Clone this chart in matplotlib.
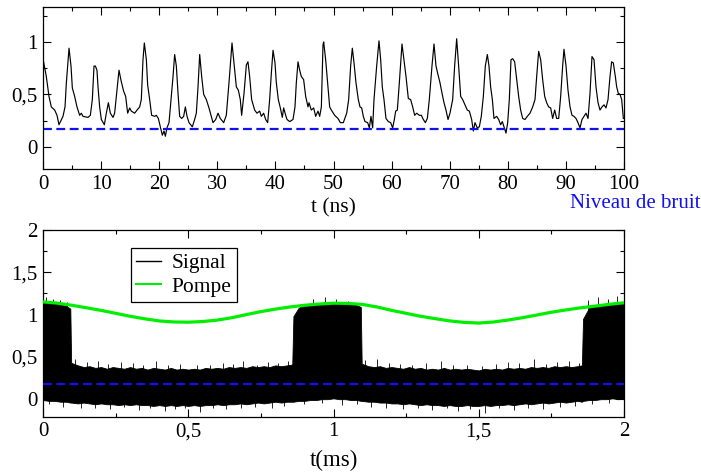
import matplotlib
matplotlib.use("Agg")
import matplotlib.pyplot as plt
from matplotlib.ticker import MultipleLocator
from matplotlib.lines import Line2D

plt.rcParams['font.family'] = ['Liberation Serif', 'DejaVu Serif']

# ---------------- data: top panel (signal vs time in ns) ----------------
top_t = [0.0, 0.57, 1.03, 1.43, 2.01, 2.41, 2.75, 3.44, 3.79, 4.02,
         4.48, 4.82, 5.05, 5.45, 5.85, 6.31, 6.60, 6.88, 7.75, 8.15,
         8.49, 8.78, 9.01, 9.29, 9.47, 9.75, 10.04, 10.56, 10.90, 11.25,
         11.59, 12.05, 12.33, 12.74, 13.08, 13.48, 13.88, 14.23, 14.57, 14.92,
         15.20, 15.78, 16.18, 16.64, 16.92, 17.21, 17.44, 17.79, 18.01, 18.36,
         18.70, 19.22, 19.51, 19.85, 20.20, 20.54, 20.83, 21.06, 21.34, 21.69,
         22.03, 22.38, 22.66, 22.95, 23.24, 23.52, 23.87, 24.21, 24.50, 24.79,
         25.13, 25.70, 26.10, 26.39, 26.68, 26.97, 27.31, 27.65, 28.11, 28.57,
         28.92, 29.26, 29.72, 30.12, 30.52, 31.10, 31.55, 32.01, 32.53, 32.87,
         33.28, 33.62, 33.96, 34.19, 34.60, 35.00, 35.28, 35.57, 35.91, 36.43,
         36.83, 37.29, 37.58, 37.98, 38.32, 38.67, 39.01, 39.30, 39.59, 39.93,
         40.16, 40.50, 40.85, 41.19, 41.42, 41.77, 42.00, 42.46, 43.03, 43.37,
         43.60, 43.89, 44.18, 44.46, 44.86, 45.21, 45.61, 45.78, 46.18, 46.59,
         46.93, 47.33, 47.62, 47.91, 48.19, 48.31, 48.65, 49.05, 49.34, 49.63,
         50.20, 50.77, 51.18, 51.69, 52.27, 52.61, 52.95, 53.24, 53.53, 53.87,
         54.27, 54.56, 54.85, 55.13, 55.42, 55.88, 56.17, 56.45, 56.74, 56.97,
         57.43, 57.83, 58.12, 58.40, 58.69, 59.03, 59.44, 59.84, 60.18, 60.47,
         60.70, 60.99, 61.33, 61.79, 62.13, 62.48, 62.88, 63.28, 63.63, 63.97,
         64.32, 64.78, 65.12, 65.46, 65.81, 66.15, 66.49, 66.95, 67.30, 67.64,
         67.93, 68.33, 68.68, 69.02, 69.36, 69.71, 70.05, 70.51, 70.85, 71.20,
         71.54, 71.89, 72.23, 72.63, 73.03, 73.38, 73.78, 74.07, 74.35, 74.75,
         75.10, 75.44, 75.79, 76.13, 76.48, 76.76, 77.05, 77.34, 77.62, 78.08,
         78.43, 78.77, 79.06, 79.40, 79.69, 79.98, 80.26, 80.55, 80.84, 81.18,
         81.53, 81.87, 82.21, 82.56, 82.96, 83.36, 83.82, 84.28, 84.68, 84.97,
         85.31, 85.66, 86.00, 86.35, 86.69, 87.03, 87.38, 87.72, 88.07, 88.41,
         88.76, 89.10, 89.44, 89.67, 90.02, 90.36, 90.71, 91.05, 91.39, 91.74,
         92.08, 92.43, 92.77, 93.12, 93.46, 93.81, 94.15, 94.49, 94.84, 95.18,
         95.53, 95.87, 96.21, 96.56, 96.90, 97.25, 97.59, 97.87, 98.16, 98.51,
         98.74, 99.02, 99.31, 99.60, 99.89]
top_v = [0.84, 0.67, 0.48, 0.38, 0.35, 0.30, 0.21, 0.29, 0.38, 0.61,
         0.94, 0.77, 0.56, 0.48, 0.38, 0.30, 0.32, 0.29, 0.28, 0.30,
         0.45, 0.77, 0.77, 0.73, 0.57, 0.38, 0.26, 0.21, 0.32, 0.42,
         0.32, 0.28, 0.32, 0.54, 0.73, 0.62, 0.53, 0.48, 0.32, 0.37,
         0.34, 0.32, 0.35, 0.38, 0.45, 0.83, 0.99, 0.83, 0.59, 0.45,
         0.30, 0.29, 0.30, 0.27, 0.19, 0.11, 0.15, 0.10, 0.18, 0.23,
         0.45, 0.67, 0.88, 0.77, 0.51, 0.29, 0.27, 0.29, 0.38, 0.29,
         0.23, 0.19, 0.26, 0.32, 0.57, 0.88, 0.67, 0.50, 0.45, 0.37,
         0.30, 0.23, 0.26, 0.32, 0.27, 0.23, 0.30, 0.61, 0.99, 0.80,
         0.57, 0.54, 0.45, 0.30, 0.51, 0.78, 0.81, 0.67, 0.45, 0.35,
         0.32, 0.34, 0.29, 0.32, 0.26, 0.23, 0.45, 0.70, 0.92, 0.80,
         0.61, 0.45, 0.37, 0.28, 0.37, 0.30, 0.26, 0.24, 0.26, 0.38,
         0.61, 0.81, 0.73, 0.67, 0.64, 0.48, 0.38, 0.42, 0.35, 0.37,
         0.29, 0.34, 0.29, 0.38, 0.97, 1.00, 0.83, 0.57, 0.38, 0.35,
         0.30, 0.27, 0.23, 0.23, 0.32, 0.45, 0.77, 0.94, 0.80, 0.61,
         0.45, 0.38, 0.37, 0.29, 0.24, 0.23, 0.18, 0.29, 0.18, 0.45,
         0.77, 1.01, 0.83, 0.57, 0.45, 0.27, 0.24, 0.23, 0.18, 0.26,
         0.34, 0.35, 0.61, 0.98, 0.83, 0.67, 0.46, 0.45, 0.38, 0.30,
         0.32, 0.30, 0.30, 0.26, 0.23, 0.27, 0.45, 0.77, 0.98, 0.77,
         0.70, 0.61, 0.51, 0.42, 0.35, 0.26, 0.32, 0.45, 0.77, 1.03,
         0.77, 0.48, 0.45, 0.40, 0.35, 0.34, 0.26, 0.15, 0.23, 0.18,
         0.19, 0.29, 0.48, 0.77, 0.88, 0.77, 0.57, 0.45, 0.27, 0.29,
         0.26, 0.21, 0.24, 0.18, 0.13, 0.23, 0.45, 0.83, 0.84, 0.81,
         0.64, 0.48, 0.35, 0.27, 0.26, 0.29, 0.32, 0.38, 0.45, 0.67,
         0.91, 0.83, 0.64, 0.48, 0.42, 0.38, 0.37, 0.27, 0.35, 0.27,
         0.27, 0.48, 0.77, 0.93, 0.77, 0.54, 0.38, 0.30, 0.29, 0.27,
         0.23, 0.18, 0.26, 0.29, 0.32, 0.27, 0.51, 0.86, 0.83, 0.57,
         0.42, 0.35, 0.38, 0.40, 0.37, 0.45, 0.67, 0.81, 0.80, 0.67,
         0.57, 0.51, 0.50, 0.45, 0.27]
noise_top = 0.17

# ---------------- data: bottom panel (time in ms) ----------------
env_t = [0.0, 0.02, 0.04, 0.06, 0.08, 0.094,
         0.097, 0.12, 0.14, 0.16, 0.18, 0.20, 0.22, 0.24, 0.26, 0.28,
         0.30, 0.32, 0.34, 0.36, 0.38, 0.40, 0.42, 0.44, 0.46, 0.48,
         0.50, 0.52, 0.54, 0.56, 0.58, 0.60, 0.62, 0.64, 0.66, 0.68,
         0.70, 0.72, 0.74, 0.76, 0.78, 0.80, 0.82, 0.84, 0.858,
         0.862, 0.88, 0.90, 0.92, 0.94, 0.96, 0.98, 1.00, 1.02, 1.04,
         1.06, 1.08, 1.094,
         1.097, 1.12, 1.14, 1.16, 1.18, 1.20, 1.22, 1.24, 1.26, 1.28,
         1.30, 1.32, 1.34, 1.36, 1.38, 1.40, 1.42, 1.44, 1.46, 1.48,
         1.50, 1.52, 1.54, 1.56, 1.58, 1.60, 1.62, 1.64, 1.66, 1.68,
         1.70, 1.72, 1.74, 1.76, 1.78, 1.80, 1.82, 1.84, 1.855,
         1.859, 1.88, 1.90, 1.92, 1.94, 1.96, 1.98, 2.00]
env_upper = [1.16, 1.13, 1.15, 1.12, 1.10, 1.07,
             0.43, 0.40, 0.38, 0.39, 0.37, 0.38, 0.36, 0.38, 0.37, 0.36,
             0.38, 0.36, 0.37, 0.35, 0.37, 0.36, 0.35, 0.37, 0.35, 0.36,
             0.35, 0.36, 0.35, 0.37, 0.36, 0.37, 0.36, 0.38, 0.37, 0.38,
             0.37, 0.39, 0.38, 0.39, 0.38, 0.40, 0.39, 0.40, 0.41,
             0.98, 1.08, 1.10, 1.11, 1.12, 1.13, 1.14, 1.13, 1.14, 1.12,
             1.13, 1.11, 1.09,
             0.42, 0.39, 0.38, 0.39, 0.37, 0.38, 0.37, 0.36, 0.38, 0.36,
             0.37, 0.35, 0.36, 0.35, 0.37, 0.35, 0.36, 0.35, 0.36, 0.35,
             0.34, 0.36, 0.35, 0.36, 0.35, 0.37, 0.36, 0.37, 0.36, 0.38,
             0.37, 0.38, 0.37, 0.39, 0.38, 0.39, 0.38, 0.39, 0.40,
             0.95, 1.08, 1.10, 1.11, 1.12, 1.12, 1.13, 1.14]
env_lower = [-0.01, -0.02, -0.02, -0.03, -0.03, -0.04,
             -0.04, -0.05, -0.04, -0.05, -0.06, -0.05, -0.06, -0.06, -0.07, -0.06,
             -0.07, -0.06, -0.07, -0.07, -0.08, -0.07, -0.08, -0.07, -0.08, -0.07,
             -0.08, -0.07, -0.08, -0.07, -0.07, -0.06, -0.07, -0.06, -0.06, -0.05,
             -0.06, -0.05, -0.04, -0.05, -0.04, -0.03, -0.04, -0.03, -0.03,
             -0.03, -0.02, -0.02, -0.01, -0.01, 0.00, 0.00, 0.01, 0.00, 0.00,
             -0.01, -0.01, -0.02,
             -0.02, -0.03, -0.03, -0.04, -0.04, -0.05, -0.05, -0.06, -0.05, -0.06,
             -0.07, -0.06, -0.07, -0.07, -0.08, -0.07, -0.08, -0.08, -0.07, -0.08,
             -0.08, -0.07, -0.08, -0.07, -0.07, -0.06, -0.07, -0.06, -0.05, -0.06,
             -0.05, -0.04, -0.05, -0.04, -0.03, -0.04, -0.03, -0.02, -0.03,
             -0.02, -0.01, -0.01, 0.00, 0.00, 0.01, 0.00, 0.01]
spike_up_t = [0.012, 0.035, 0.058, 0.083, 0.11, 0.15, 0.19, 0.225, 0.27, 0.31,
              0.345, 0.39, 0.43, 0.47, 0.53, 0.575, 0.62, 0.655, 0.69, 0.735,
              0.775, 0.81, 0.845, 0.885, 0.93, 0.97, 1.01, 1.05, 1.11, 1.15,
              1.19, 1.23, 1.27, 1.32, 1.37, 1.41, 1.46, 1.51, 1.56, 1.60,
              1.64, 1.69, 1.73, 1.77, 1.81, 1.845, 1.875, 1.91, 1.945, 1.975]
spike_up_v = [1.21, 1.19, 1.17, 1.15, 0.47, 0.44, 0.45, 0.42, 0.44, 0.43,
              0.41, 0.45, 0.40, 0.42, 0.40, 0.41, 0.43, 0.42, 0.45, 0.41,
              0.44, 0.43, 0.45, 1.13, 1.19, 1.21, 1.18, 1.16, 0.46, 0.48,
              0.43, 0.42, 0.41, 0.43, 0.45, 0.40, 0.41, 0.39, 0.42, 0.44,
              0.43, 0.47, 0.42, 0.44, 0.45, 0.43, 1.17, 1.21, 1.19, 1.22]
spike_lo_t = [0.02, 0.07, 0.13, 0.18, 0.23, 0.28, 0.33, 0.37, 0.42, 0.455,
              0.49, 0.54, 0.585, 0.63, 0.68, 0.73, 0.79, 0.83, 0.90, 0.96,
              1.03, 1.08, 1.13, 1.18, 1.24, 1.29, 1.34, 1.39, 1.43, 1.47,
              1.52, 1.57, 1.62, 1.67, 1.72, 1.78, 1.83, 1.89, 1.95]
spike_lo_v = [-0.06, -0.09, -0.11, -0.10, -0.12, -0.09, -0.13, -0.11, -0.14, -0.12,
              -0.10, -0.15, -0.11, -0.12, -0.10, -0.09, -0.11, -0.08, -0.06, -0.05,
              -0.07, -0.06, -0.09, -0.10, -0.12, -0.11, -0.13, -0.10, -0.14, -0.12,
              -0.16, -0.11, -0.13, -0.10, -0.12, -0.09, -0.08, -0.06, -0.05]
pump_t = [0.0, 0.05, 0.1, 0.15, 0.2, 0.25, 0.3, 0.35, 0.4, 0.45, 0.5,
          0.55, 0.6, 0.65, 0.7, 0.75, 0.8, 0.85, 0.9, 0.95, 1.0,
          1.05, 1.1, 1.15, 1.2, 1.25, 1.3, 1.35, 1.4, 1.45, 1.5,
          1.55, 1.6, 1.65, 1.7, 1.75, 1.8, 1.85, 1.9, 1.95, 2.0]
pump_v = [1.15, 1.135, 1.11, 1.08, 1.05, 1.015, 0.98, 0.95, 0.925, 0.913, 0.91,
          0.918, 0.935, 0.963, 1.00, 1.035, 1.065, 1.09, 1.11, 1.125, 1.135,
          1.132, 1.12, 1.09, 1.05, 1.015, 0.98, 0.952, 0.925, 0.908, 0.90,
          0.912, 0.935, 0.963, 0.995, 1.028, 1.055, 1.08, 1.10, 1.122, 1.14]
noise_bottom = 0.175

top_xticks = [0, 10, 20, 30, 40, 50, 60, 70, 80, 90, 100]
top_yticks = [0, 0.5, 1]
top_yticklabels = ['0', '0,5', '1']
bot_xticks = [0, 0.5, 1, 1.5, 2]
bot_xticklabels = ['0', '0,5', '1', '1,5', '2']
bot_yticks = [0, 0.5, 1, 1.5, 2]
bot_yticklabels = ['0', '0,5', '1', '1,5', '2']

# ---------------- figure ----------------
W, H = 701, 475
fig = plt.figure(figsize=(W / 100, H / 100), dpi=100)
ax1 = fig.add_axes([43 / W, 1 - 169.3 / H, 581 / W, 162 / H])
ax2 = fig.add_axes([43 / W, 1 - 416.7 / H, 581 / W, 186.7 / H])

blue = '#1010f0'
green = '#00ee00'


def style(ax, fs):
    for s in ax.spines.values():
        s.set_linewidth(0.9)
    ax.tick_params(which='both', direction='in', top=True, right=True,
                   labelsize=fs, width=0.8)
    ax.tick_params(which='major', length=6)
    ax.tick_params(which='minor', length=3)
    ax.tick_params(axis='x', pad=4)
    ax.tick_params(axis='y', pad=4)


# top panel
ax1.plot(top_t, top_v, color='black', lw=0.85)
ax1.axhline(noise_top, color=blue, lw=1.6, dashes=(4, 2))
ax1.set_xlim(0, 100)
ax1.set_ylim(-0.215, 1.33)
ax1.set_xticks(top_xticks)
ax1.set_xticklabels([str(v) for v in top_xticks])
ax1.set_yticks(top_yticks)
ax1.set_yticklabels(top_yticklabels)
ax1.xaxis.set_minor_locator(MultipleLocator(5))
ax1.yaxis.set_minor_locator(MultipleLocator(0.25))
style(ax1, 15)
ax1.set_xlabel('t (ns)', fontsize=15.5, labelpad=3)
fig.text(700 / W, 1 - 204 / H, 'Niveau de bruit', color=blue, fontsize=15,
         ha='right', va='center')

# bottom panel
ax2.vlines(spike_up_t, 0.2, spike_up_v, color='#222222', lw=0.7, zorder=1)
ax2.vlines(spike_lo_t, spike_lo_v, 0.2, color='#222222', lw=0.7, zorder=1)
ax2.fill_between(env_t, env_lower, env_upper, color='black', lw=0.6,
                 edgecolor='black', zorder=2)
ax2.plot(pump_t, pump_v, color=green, lw=2.3, zorder=3)
ax2.axhline(noise_bottom, color=blue, lw=1.6, dashes=(4, 2), zorder=4)
ax2.set_xlim(0, 2)
ax2.set_ylim(-0.207, 2.0)
ax2.set_xticks(bot_xticks)
ax2.set_xticklabels(bot_xticklabels)
ax2.set_yticks(bot_yticks)
ax2.set_yticklabels(bot_yticklabels)
ax2.xaxis.set_minor_locator(MultipleLocator(0.25))
ax2.yaxis.set_minor_locator(MultipleLocator(0.25))
style(ax2, 15)
ax2.set_xlabel('t(ms)', fontsize=16.5, labelpad=6)

handles = [Line2D([], [], color='black', lw=1.0),
           Line2D([], [], color=green, lw=1.5)]
leg = ax2.legend(handles, ['Signal', 'Pompe'], loc='upper left',
                 bbox_to_anchor=(0.151, 0.904), borderaxespad=0,
                 fontsize=15.5, frameon=True, fancybox=False, framealpha=1,
                 edgecolor='black', handlelength=1.15, handletextpad=0.5,
                 borderpad=0.25, labelspacing=0.15)
leg.get_frame().set_linewidth(0.9)

fig.savefig('out.png', dpi=100)
